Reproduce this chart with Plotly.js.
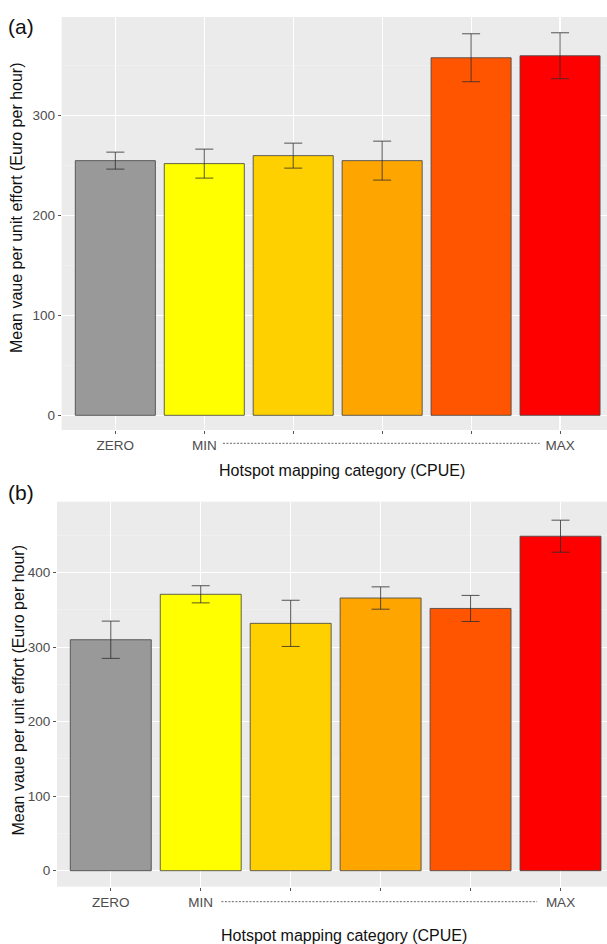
<!DOCTYPE html>
<html>
<head>
<meta charset="utf-8">
<script src="https://cdn.plot.ly/plotly-3.0.1.min.js"></script>
<style>html,body{margin:0;padding:0;background:#fff;}#chart{width:607px;height:944px;}</style>
</head>
<body>
<div id="chart"></div>
<script>
// ---- data ----
const categories = ['ZERO', 'MIN', 'C3', 'C4', 'C5', 'MAX'];
const tickLabels = ['ZERO', 'MIN', '', '', '', 'MAX'];
const barColors = ['#999999', '#FFFF00', '#FFD000', '#FFA500', '#FF5500', '#FF0000'];
const meansA = [255, 252, 260, 255, 358, 360];
const errA = [8.5, 14.5, 12.5, 19.5, 24, 23];
const meansB = [310, 371, 332, 366, 352, 449];
const errB = [25, 11.5, 31, 15, 17.5, 21.5];
const panelLabels = ['(a)', '(b)'];
const xTitle = 'Hotspot mapping category (CPUE)';
const yTitle = 'Mean vaue per unit effort (Euro per hour)';

const W = 607, H = 944;
const FONT = 'Liberation Sans, Arial, sans-serif';

function barTrace(means, errs, xa, ya) {
  return {
    type: 'bar', x: categories, y: means, xaxis: xa, yaxis: ya,
    marker: {color: barColors, line: {color: 'rgba(70,70,70,0.85)', width: 1}},
    error_y: {type: 'data', array: errs, visible: true, color: 'rgba(45,45,45,0.8)', thickness: 1, width: 9},
    hoverinfo: 'skip', showlegend: false
  };
}

function xAxis(domain, range, anchor) {
  return {
    domain: domain, range: range, anchor: anchor, type: 'category',
    tickmode: 'array', tickvals: categories, ticktext: tickLabels,
    showgrid: true, gridcolor: '#FFFFFF', gridwidth: 1.1,
    ticks: 'outside', ticklen: 3, tickwidth: 1, tickcolor: '#555555',
    tickfont: {family: FONT, size: 13.5, color: '#4D4D4D'},
    showline: false, zeroline: false, fixedrange: true
  };
}
function yAxis(domain, range, anchor) {
  return {
    domain: domain, range: range, anchor: anchor,
    dtick: 100, tick0: 0,
    showgrid: true, gridcolor: '#FFFFFF', gridwidth: 1.1,
    minor: {dtick: 50, tick0: 0, showgrid: true, gridcolor: '#F4F4F4', gridwidth: 0.6, ticks: ''},
    ticks: 'outside', ticklen: 3, tickwidth: 1, tickcolor: '#555555',
    tickfont: {family: FONT, size: 13.5, color: '#4D4D4D'},
    showline: false, zeroline: false, fixedrange: true
  };
}

const pxX = v => v / W;
const pxY = v => 1 - v / H;

const layout = {
  width: W, height: H,
  margin: {l: 0, r: 0, t: 0, b: 0},
  paper_bgcolor: '#FFFFFF', plot_bgcolor: '#EBEBEB',
  bargap: 0.1,
  font: {family: FONT},
  xaxis: xAxis([pxX(61.7), 1], [-0.603, 5.528], 'y'),
  yaxis: yAxis([pxY(430), pxY(17)], [-14.7, 398.8], 'x'),
  xaxis2: xAxis([pxX(57), 1], [-0.598, 5.517], 'y2'),
  yaxis2: yAxis([pxY(886.7), pxY(501.7)], [-21.5, 495.3], 'x2'),
  shapes: [
    {type: 'line', xref: 'x', yref: 'paper', x0: 1.21, x1: 4.77, y0: pxY(443.3), y1: pxY(443.3),
     line: {color: '#666666', width: 1, dash: '2px,1.5px'}},
    {type: 'line', xref: 'x2', yref: 'paper', x0: 1.23, x1: 4.74, y0: pxY(901.7), y1: pxY(901.7),
     line: {color: '#666666', width: 1, dash: '2px,1.5px'}}
  ],
  annotations: [
    {text: panelLabels[0], xref: 'paper', yref: 'paper', x: pxX(21), y: pxY(26), showarrow: false,
     font: {family: FONT, size: 21, color: '#111111'}, xanchor: 'center', yanchor: 'middle'},
    {text: panelLabels[1], xref: 'paper', yref: 'paper', x: pxX(21), y: pxY(492), showarrow: false,
     font: {family: FONT, size: 21, color: '#111111'}, xanchor: 'center', yanchor: 'middle'},
    {text: xTitle, xref: 'paper', yref: 'paper', x: pxX(342), y: pxY(471), showarrow: false,
     font: {family: FONT, size: 16, color: '#111111'}, xanchor: 'center', yanchor: 'middle'},
    {text: xTitle, xref: 'paper', yref: 'paper', x: pxX(344), y: pxY(935), showarrow: false,
     font: {family: FONT, size: 16, color: '#111111'}, xanchor: 'center', yanchor: 'middle'},
    {text: yTitle, xref: 'paper', yref: 'paper', x: pxX(17), y: pxY(208), showarrow: false, textangle: -90,
     font: {family: FONT, size: 16, color: '#111111'}, xanchor: 'center', yanchor: 'middle'},
    {text: yTitle, xref: 'paper', yref: 'paper', x: pxX(17.5), y: pxY(690), showarrow: false, textangle: -90,
     font: {family: FONT, size: 16, color: '#111111'}, xanchor: 'center', yanchor: 'middle'}
  ]
};

Plotly.newPlot('chart', [barTrace(meansA, errA, 'x', 'y'), barTrace(meansB, errB, 'x2', 'y2')], layout,
  {staticPlot: true, displayModeBar: false});
</script>
</body>
</html>
